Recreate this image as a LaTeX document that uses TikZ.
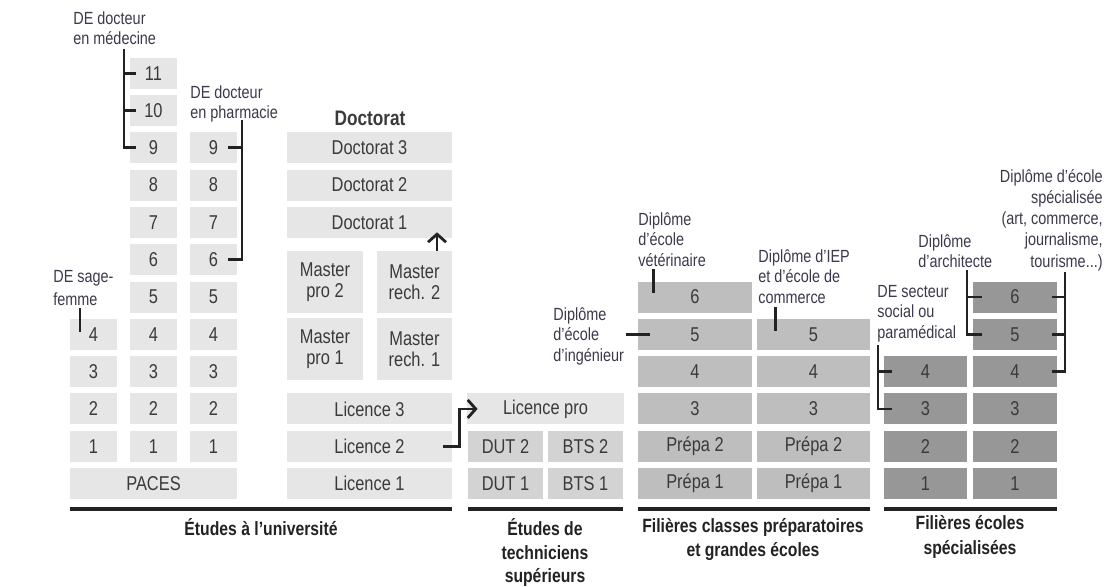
\documentclass[tikz,border=0pt]{standalone}
\usepackage{fontspec}
\setmainfont{Liberation Sans}[FakeStretch=0.82]
\usetikzlibrary{arrows.meta}
\definecolor{txt}{HTML}{3A3A3A}
\definecolor{lab}{HTML}{3A3A4C}
\definecolor{ink}{HTML}{222222}
\definecolor{unigray}{HTML}{E6E6E6}
\definecolor{techgray}{HTML}{D3D3D3}
\definecolor{prepgray}{HTML}{BEBEBE}
\definecolor{specgray}{HTML}{979797}
\tikzset{
  cellbox/.style={inner sep=0pt, minimum height=15.5pt, font=\fontsize{10}{12}\selectfont, text=txt},
  uni/.style={cellbox, fill=unigray},
  tech/.style={cellbox, fill=techgray},
  prep/.style={cellbox, fill=prepgray},
  spec/.style={cellbox, fill=specgray},
  twoline/.style={minimum height=31pt, align=center, font=\fontsize{10}{10.5}\selectfont},
  note/.style={inner sep=0pt, font=\fontsize{8.8}{10.2}\selectfont, text=lab, align=left, anchor=north west},
  caption/.style={inner sep=0pt, font=\bfseries\fontsize{9.6}{11.8}\selectfont, text=ink, align=center, anchor=north},
  bracket/.style={draw=ink, line width=1.4pt},
  arrowline/.style={bracket, -{Straight Barb[length=4pt,width=9pt]}},
  baserule/.style={draw=ink, line width=1.7pt}
}
\newcommand{\cell}[6]{\node[#1, minimum width={#4*0.5pt}] (#2) at (#3,{483.5-37.3*(#5)}) {#6};}
\begin{document}
\begin{tikzpicture}[x=0.5pt,y=-0.5pt]
\useasboundingbox (0,0) rectangle (1108,586);

% --- university: medicine / pharmacy / midwifery
\foreach \k in {1,...,4} {\cell{uni}{a\k}{93.5}{47}{\k}{\k}}
\foreach \k in {1,...,11} {\cell{uni}{b\k}{153.5}{47}{\k}{\k}}
\foreach \k in {1,...,9} {\cell{uni}{c\k}{213.5}{47}{\k}{\k}}
\cell{uni}{paces}{153.5}{167}{0}{PACES}

% --- university: LMD
\cell{uni}{l1}{369.5}{165}{0}{Licence 1}
\cell{uni}{l2}{369.5}{165}{1}{Licence 2}
\cell{uni}{l3}{369.5}{165}{2}{Licence 3}
\node[uni, twoline, minimum width=38pt] (mp1) at (325,349) {Master\\pro 1};
\node[uni, twoline, minimum width=37.5pt] (mr1) at (414.5,349) {Master\\rech. 1};
\node[uni, twoline, minimum width=38pt] (mp2) at (325,282) {Master\\pro 2};
\node[uni, twoline, minimum width=37.5pt] (mr2) at (414.5,282) {Master\\rech. 2};
\cell{uni}{d1}{369.5}{165}{7}{Doctorat 1}
\cell{uni}{d2}{369.5}{165}{8}{Doctorat 2}
\cell{uni}{d3}{369.5}{165}{9}{Doctorat 3}
\node[inner sep=0pt, font=\bfseries\fontsize{10.5}{12}\selectfont, text=txt] (doct) at (370,118) {Doctorat};

% --- technicians
\cell{tech}{dut1}{505.5}{75}{0}{DUT 1}
\cell{tech}{dut2}{505.5}{75}{1}{DUT 2}
\cell{tech}{bts1}{585.5}{75}{0}{BTS 1}
\cell{tech}{bts2}{585.5}{75}{1}{BTS 2}
\cell{uni}{lp}{545.5}{157}{2}{Licence pro}

% --- prepa / grandes ecoles
\cell{prep}{d0}{695}{114}{0}{Prépa 1}
\cell{prep}{dd1}{695}{114}{1}{Prépa 2}
\cell{prep}{dd2}{695}{114}{2}{3}
\cell{prep}{dd3}{695}{114}{3}{4}
\cell{prep}{d5}{695}{114}{4}{5}
\cell{prep}{d6}{695}{114}{5}{6}
\cell{prep}{e0}{813.5}{113}{0}{Prépa 1}
\cell{prep}{e1}{813.5}{113}{1}{Prépa 2}
\cell{prep}{e2}{813.5}{113}{2}{3}
\cell{prep}{e3}{813.5}{113}{3}{4}
\cell{prep}{e5}{813.5}{113}{4}{5}

% --- specialised schools
\foreach \k in {1,...,4} {\cell{spec}{f\k}{925.5}{83}{\k-1}{\k}}
\foreach \k in {1,...,6} {\cell{spec}{g\k}{1015}{84}{\k-1}{\k}}

% --- annotations
\node[note] (nmed) at (73,11) {DE docteur\\en médecine};
\node[note] (nph) at (190,85) {DE docteur\\en pharmacie};
\node[note, font=\fontsize{8.8}{11.5}\selectfont] (nsf) at (53,270) {DE sage-\\femme};
\node[note] (ning) at (553,307) {Diplôme\\d’école\\d’ingénieur};
\node[note] (nvet) at (638,212) {Diplôme\\d’école\\vétérinaire};
\node[note] (niep) at (758,249) {Diplôme d’IEP\\et d’école de\\commerce};
\node[note] (nsoc) at (877,285) {DE secteur\\social ou\\paramédical};
\node[note] (narch) at (918,234) {Diplôme\\d’architecte};
\node[note, align=right, anchor=north east, font=\fontsize{8.8}{10.6}\selectfont] (nspe) at (1103,169) {Diplôme d’école\\spécialisée\\(art, commerce,\\journalisme,\\tourisme...)};

% --- brackets and ticks
\coordinate (medtop) at (124,49);
\draw[bracket] (medtop) |- ([shift={(6,0)}]b9.west);
\draw[bracket] ([shift={(-6,0)}]b11.west) -- ([shift={(6,0)}]b11.west);
\draw[bracket] ([shift={(-6,0)}]b10.west) -- ([shift={(6,0)}]b10.west);

\coordinate (phtop) at (242,120);
\draw[bracket] (phtop) |- ([shift={(-9,0)}]c6.east);
\draw[bracket] ([shift={(-9,0)}]c9.east) -- ([shift={(5,0)}]c9.east);

\draw[bracket] ([shift={(-13.5,-26)}]a4.center) -- ([shift={(-13.5,-2)}]a4.center);

\draw[arrowline] ([shift={(22.5,0)}]mr2.north) -- ([shift={(67.5,-6)}]d1.south);
\draw[arrowline] ([shift={(-9,0)}]l2.east) -- ++(16,0) |- ([shift={(11,0)}]lp.west);

\draw[bracket] ([shift={(-12,0)}]d5.west) -- ([shift={(12,0)}]d5.west);
\draw[bracket] ([shift={(16,-12)}]d6.north west) -- ([shift={(16,12)}]d6.north west);
\draw[bracket] ([shift={(19,-11)}]e5.north west) -- ([shift={(19,13)}]e5.north west);

\coordinate (sectop) at (878,345);
\draw[bracket] (sectop) |- ([shift={(8,0)}]f3.west);
\draw[bracket] ([shift={(-6,0)}]f4.west) -- ([shift={(8,0)}]f4.west);

\coordinate (archtop) at (967,270);
\draw[bracket] (archtop) |- ([shift={(9,0)}]g5.west);
\draw[bracket] ([shift={(-6,0)}]g6.west) -- ([shift={(9,0)}]g6.west);

\coordinate (spectop) at (1065,272);
\draw[bracket] (spectop) |- ([shift={(-5,0)}]g4.east);
\draw[bracket] ([shift={(-5,0)}]g6.east) -- ([shift={(8,0)}]g6.east);
\draw[bracket] ([shift={(-5,0)}]g5.east) -- ([shift={(8,0)}]g5.east);

% --- base rules and captions
\draw[baserule] (70,509) -- (452,509);
\draw[baserule] (468,509) -- (623,509);
\draw[baserule] (638,509) -- (870,509);
\draw[baserule] (884,509) -- (1057,509);
\node[caption] (cuni) at (261,518) {Études à l’université};
\node[caption] (ctech) at (545,518) {Études de\\techniciens\\supérieurs};
\node[caption] (cprep) at (753,518) {Filières classes préparatoires\\et grandes écoles};
\node[caption, font=\bfseries\fontsize{9.6}{12.3}\selectfont] (cspec) at (970,515) {Filières écoles\\spécialisées};
\end{tikzpicture}
\end{document}
